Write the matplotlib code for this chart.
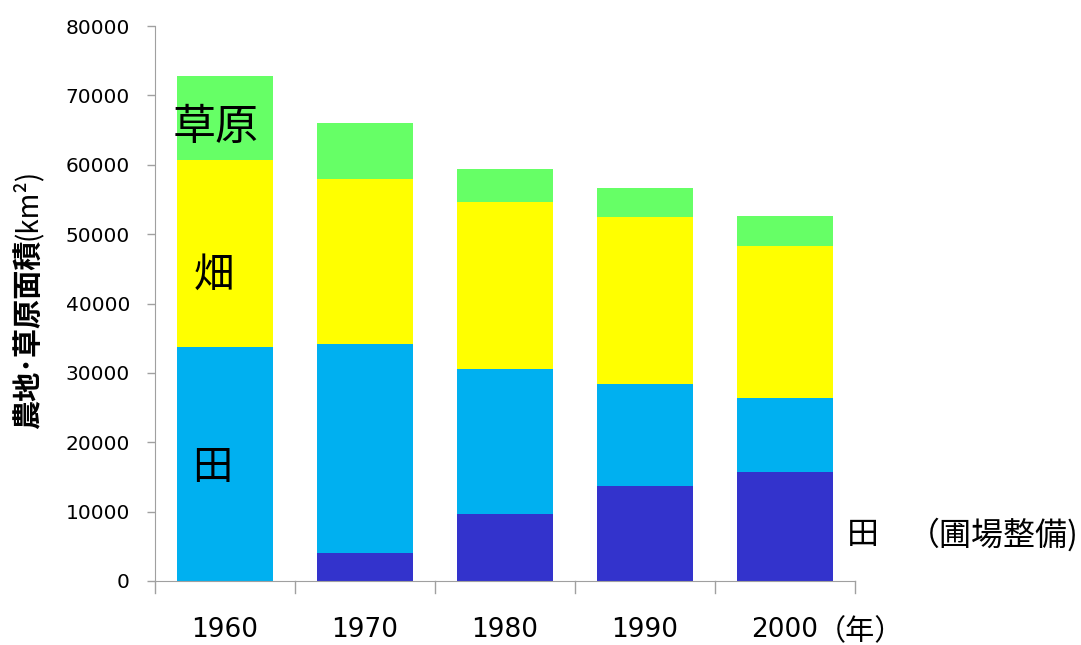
import matplotlib
matplotlib.use("Agg")
import matplotlib.pyplot as plt
import numpy as np

plt.rcParams['font.family'] = ['Noto Sans CJK JP', 'DejaVu Sans']

years = ["1960", "1970", "1980", "1990", "2000"]
paddy_improved = [0, 4000, 9700, 13700, 15700]      # 田（圃場整備）
paddy_total = [33700, 34200, 30600, 28400, 26400]   # 田 total
upland = [27000, 23700, 24000, 24100, 21900]        # 畑
grassland = [12100, 8100, 4800, 4100, 4300]         # 草原
yticks = [0, 10000, 20000, 30000, 40000, 50000, 60000, 70000, 80000]

c_dark = "#3333CC"
c_light = "#00B0F0"
c_yellow = "#FFFF00"
c_green = "#66FF66"

fig = plt.figure(figsize=(10.81, 6.45), dpi=100)
ax = fig.add_axes([155/1081, 1-581/645, 700/1081, 555/645])

x = np.arange(len(years))
w = 0.68
imp = np.array(paddy_improved)
tot = np.array(paddy_total)
up = np.array(upland)
gr = np.array(grassland)
ax.bar(x, imp, w, color=c_dark)
ax.bar(x, tot - imp, w, bottom=imp, color=c_light)
ax.bar(x, up, w, bottom=tot, color=c_yellow)
ax.bar(x, gr, w, bottom=tot + up, color=c_green)

ax.set_xlim(-0.5, len(years) - 0.5)
ax.set_ylim(0, 80000)
ax.set_yticks(yticks)
ax.set_yticklabels([str(v) for v in yticks], fontsize=14.5, family='DejaVu Sans')
ax.set_xticks(x)
ax.set_xticklabels(years, fontsize=19, family='DejaVu Sans')
ax.tick_params(axis='x', length=0, pad=26)
ax.tick_params(axis='y', length=6, width=1, color="#A0A0A0", pad=12)
for b in np.arange(-0.5, len(years), 1.0):
    ax.plot([b, b], [0, -0.022], transform=ax.get_xaxis_transform(),
            color="#A0A0A0", lw=1, clip_on=False)
for s in ["top", "right"]:
    ax.spines[s].set_visible(False)
for s in ["left", "bottom"]:
    ax.spines[s].set_color("#A0A0A0")

fig.text(28/1081, 1-240/645, "農地･草原面積", rotation=90, ha='center', va='top',
         fontsize=21, fontweight='bold')
fig.text(28/1081, 1-240/645, "(km²)", rotation=90, ha='center', va='bottom',
         fontsize=20)

ax.text(-0.07, 65300, "草原", ha='center', va='center', fontsize=31)
ax.text(-0.08, 44000, "畑", ha='center', va='center', fontsize=29)
ax.text(-0.09, 16300, "田", ha='center', va='center', fontsize=29)

fig.text(847/1081, 1-535/645, "田", ha='left', va='center', fontsize=23)
fig.text(1079/1081, 1-535/645, "（圃場整備)", ha='right', va='center', fontsize=23)
fig.text(817/1081, 1-632/645, "（年）", ha='left', va='center', fontsize=21)

fig.savefig("out.png", dpi=100)
